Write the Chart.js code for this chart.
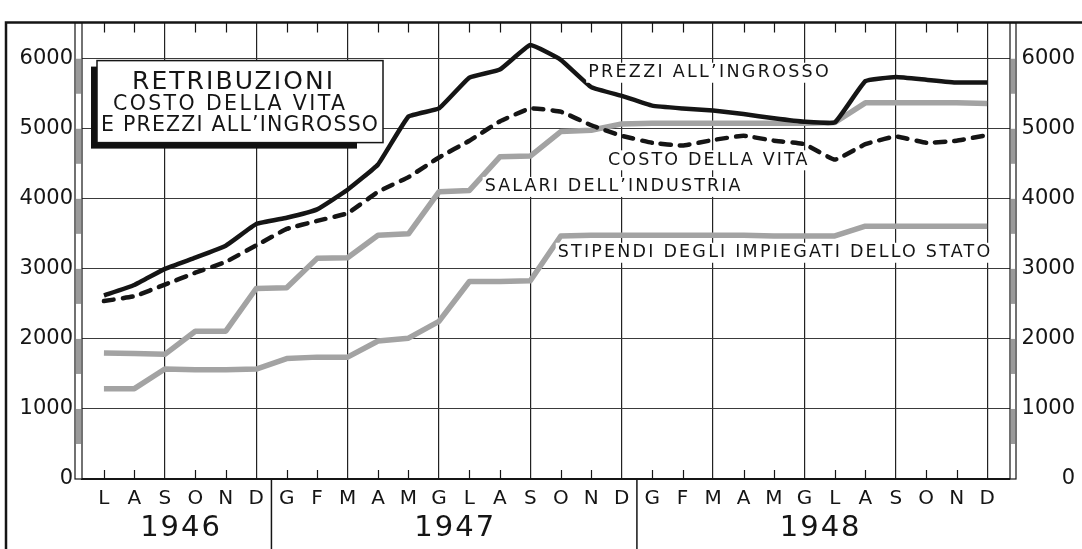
<!DOCTYPE html>
<html>
<head>
<meta charset="utf-8">
<script src="https://cdn.jsdelivr.net/npm/chart.js@4/dist/chart.umd.min.js"></script>
<style>
  html, body { margin: 0; padding: 0; background: #fff; }
  #wrap { width: 1082px; height: 549px; }
</style>
</head>
<body>
<div id="wrap"><canvas id="chart" width="1082" height="549"></canvas></div>
<script>
// months from July 1946 to December 1948
const monthLetters = ['L','A','S','O','N','D',
  'G','F','M','A','M','G','L','A','S','O','N','D',
  'G','F','M','A','M','G','L','A','S','O','N','D'];
const years = ['1946', '1947', '1948'];
const yearSpans = [[0, 5], [6, 17], [18, 29]];

const prezziIngrosso = [2620, 2770, 3000, 3160, 3330, 3640,
  3730, 3850, 4130, 4490, 5175, 5290, 5730, 5845, 6195, 5985, 5595, 5470,
  5330, 5290, 5260, 5210, 5150, 5100, 5090, 5680, 5740, 5700, 5660, 5660];
const costoVita = [2540, 2610, 2775, 2945, 3100, 3335,
  3570, 3685, 3795, 4100, 4310, 4590, 4830, 5105, 5290, 5245, 5050, 4900,
  4800, 4760, 4840, 4900, 4830, 4780, 4560, 4780, 4890, 4800, 4830, 4910];
const salariIndustria = [1800, 1790, 1780, 2110, 2110, 2720,
  2730, 3150, 3160, 3480, 3500, 4100, 4120, 4600, 4610, 4960, 4980, 5070,
  5080, 5080, 5080, 5080, 5080, 5080, 5090, 5370, 5370, 5370, 5370, 5360];
const stipendiStato = [1290, 1290, 1570, 1560, 1560, 1570,
  1720, 1740, 1740, 1970, 2010, 2250, 2820, 2820, 2830, 3470, 3480, 3480,
  3480, 3480, 3480, 3480, 3470, 3470, 3470, 3610, 3610, 3610, 3610, 3610];

const yTicks = [0, 1000, 2000, 3000, 4000, 5000, 6000];
const titleLines = ['RETRIBUZIONI', 'COSTO DELLA VITA', 'E PREZZI ALL’INGROSSO'];
const seriesNames = ['PREZZI ALL’INGROSSO', 'COSTO DELLA VITA',
  'SALARI DELL’INDUSTRIA', 'STIPENDI DEGLI IMPIEGATI DELLO STATO'];

// where each series name sits, in month / value units
const nameSpots = [
  { from: 15.9, to: 23.8, value: 5800 },
  { from: 16.55, to: 23.1, value: 4550 },
  { from: 12.5, to: 20.9, value: 4170 },
  { from: 14.9, to: 29.1, value: 3230 }
];

const FONT = '"DejaVu Sans", sans-serif';
const INK = '#151515';
const GREY = '#a3a3a3';

const toPoints = arr => arr.map((v, i) => ({ x: i, y: v }));

function spacedText(ctx, text, left, right, y, size) {
  ctx.font = size + 'px ' + FONT;
  ctx.letterSpacing = '0px';
  const w = ctx.measureText(text).width;
  const gap = (right - left - w) / (text.length - 1);
  ctx.letterSpacing = gap + 'px';
  ctx.textAlign = 'left';
  ctx.textBaseline = 'middle';
  ctx.fillText(text, left, y);
  ctx.letterSpacing = '0px';
}

// frame, ruler bars on both sides, short month ticks
const framePlugin = {
  id: 'frame',
  beforeDatasetsDraw(chart) {
    const { ctx, chartArea: a, scales } = chart;
    const y = scales.y;
    ctx.save();
    const bar = (x0, x1) => {
      ctx.fillStyle = '#fff';
      ctx.fillRect(x0, a.top, x1 - x0, a.bottom - a.top);
      ctx.fillStyle = '#9a9a9a';
      for (let v = 500; v < 6000; v += 1000) {
        const p1 = y.getPixelForValue(v + 500), p0 = y.getPixelForValue(v);
        ctx.fillRect(x0 + 1, p1, x1 - x0 - 2, p0 - p1);
      }
      ctx.strokeStyle = INK;
      ctx.lineWidth = 1.2;
      ctx.strokeRect(x0, a.top, x1 - x0, a.bottom - a.top);
    };
    bar(a.left - 7, a.left);
    bar(a.right, a.right + 6);

    // minor month ticks at top and bottom
    ctx.strokeStyle = INK;
    ctx.lineWidth = 1.2;
    for (let m = 0; m < monthLetters.length; m++) {
      if (m % 3 === 2) continue;
      const px = Math.round(scales.x.getPixelForValue(m)) + 0.5;
      ctx.beginPath();
      ctx.moveTo(px, a.bottom); ctx.lineTo(px, a.bottom - 9);
      ctx.moveTo(px, a.top); ctx.lineTo(px, a.top + 10);
      ctx.stroke();
    }

    // outer frame
    ctx.lineWidth = 2.5;
    ctx.beginPath();
    ctx.moveTo(6, 549); ctx.lineTo(6, a.top); ctx.lineTo(1082, a.top);
    ctx.stroke();

    // year separators and year names
    ctx.lineWidth = 1.5;
    [5.5, 17.5].forEach(m => {
      const px = scales.x.getPixelForValue(m);
      ctx.beginPath();
      ctx.moveTo(px, a.bottom); ctx.lineTo(px, 549);
      ctx.stroke();
    });
    ctx.fillStyle = INK;
    ctx.font = '29px ' + FONT;
    ctx.textAlign = 'center';
    ctx.textBaseline = 'middle';
    years.forEach((yr, i) => {
      const [m0, m1] = yearSpans[i];
      const px = (scales.x.getPixelForValue(m0) + scales.x.getPixelForValue(m1)) / 2;
      ctx.letterSpacing = '2px';
      ctx.fillText(yr, px + 1, 528);
      ctx.letterSpacing = '0px';
    });
    ctx.restore();
  },
  afterDatasetsDraw(chart) {
    const { ctx, chartArea: a, scales } = chart;
    ctx.save();
    ctx.fillStyle = INK;
    // series names with a white backing
    seriesNames.forEach((name, i) => {
      const s = nameSpots[i];
      const l = scales.x.getPixelForValue(s.from);
      const r = scales.x.getPixelForValue(s.to);
      const py = scales.y.getPixelForValue(s.value);
      ctx.fillStyle = '#fff';
      ctx.fillRect(l - 2, py - 10, r - l + 4, 20);
      ctx.fillStyle = INK;
      spacedText(ctx, name, l, r, py, 17.5);
    });

    // title box with its dark shadow
    const bx = a.left + 15, by = a.top + 38, bw = 286, bh = 82;
    ctx.fillStyle = '#111';
    ctx.fillRect(bx - 6, by + 6, bw - 20, bh);
    ctx.fillStyle = '#fff';
    ctx.fillRect(bx, by, bw, bh);
    ctx.strokeStyle = INK;
    ctx.lineWidth = 1.5;
    ctx.strokeRect(bx, by, bw, bh);
    ctx.fillStyle = INK;
    spacedText(ctx, titleLines[0], bx + 35, bx + 236, by + 22, 25);
    spacedText(ctx, titleLines[1], bx + 16, bx + 248, by + 44, 20.5);
    spacedText(ctx, titleLines[2], bx + 4, bx + 281, by + 65, 20.5);
    ctx.restore();
  }
};

const ctx = document.getElementById('chart').getContext('2d');
new Chart(ctx, {
  type: 'line',
  data: {
    datasets: [
      {
        label: seriesNames[0],
        data: toPoints(prezziIngrosso),
        borderColor: INK,
        borderWidth: 4.5,
        tension: 0.1,
        order: 1
      },
      {
        label: seriesNames[1],
        data: toPoints(costoVita),
        borderColor: INK,
        borderWidth: 4.5,
        borderDash: [10, 9],
        borderCapStyle: 'round',
        tension: 0.1,
        order: 1
      },
      {
        label: seriesNames[2],
        data: toPoints(salariIndustria),
        borderColor: GREY,
        borderWidth: 5.5,
        tension: 0,
        order: 2
      },
      {
        label: seriesNames[3],
        data: toPoints(stipendiStato),
        borderColor: GREY,
        borderWidth: 5.5,
        tension: 0,
        order: 2
      }
    ]
  },
  options: {
    responsive: false,
    animation: false,
    devicePixelRatio: 1,
    layout: { padding: { top: 12, right: 7, left: 0, bottom: 0 } },
    elements: {
      point: { radius: 0 },
      line: { borderJoinStyle: 'round', fill: false }
    },
    plugins: {
      legend: { display: false },
      tooltip: { enabled: false }
    },
    scales: {
      x: {
        type: 'linear',
        min: -0.72,
        max: 29.75,
        afterFit: s => { s.height = 70; },
        border: { display: true, color: INK, width: 2 },
        grid: {
          drawTicks: false,
          lineWidth: 1.2,
          color: c => (c.tick && c.tick.value % 3 === 2) ? '#222' : 'rgba(0,0,0,0)'
        },
        ticks: {
          stepSize: 1,
          includeBounds: false,
          autoSkip: false,
          maxRotation: 0,
          padding: 8,
          color: INK,
          font: { family: FONT, size: 20 },
          callback: v => monthLetters[v] ?? ''
        }
      },
      y: {
        position: 'left',
        min: 0,
        max: 6516,
        afterFit: s => { s.width = 82; },
        afterBuildTicks: s => { s.ticks = yTicks.map(v => ({ value: v })); },
        border: { display: false },
        grid: { drawTicks: false, color: '#3a3a3a', lineWidth: 1 },
        ticks: {
          padding: 9,
          color: INK,
          font: { family: FONT, size: 21 },
          callback: v => String(v)
        }
      },
      y2: {
        position: 'right',
        min: 0,
        max: 6516,
        afterFit: s => { s.width = 65; },
        afterBuildTicks: s => { s.ticks = yTicks.map(v => ({ value: v })); },
        border: { display: false },
        grid: { drawOnChartArea: false, drawTicks: false },
        ticks: {
          crossAlign: 'far',
          padding: 10,
          color: INK,
          font: { family: FONT, size: 21 },
          callback: v => String(v)
        }
      }
    }
  },
  plugins: [framePlugin]
});
</script>
</body>
</html>
